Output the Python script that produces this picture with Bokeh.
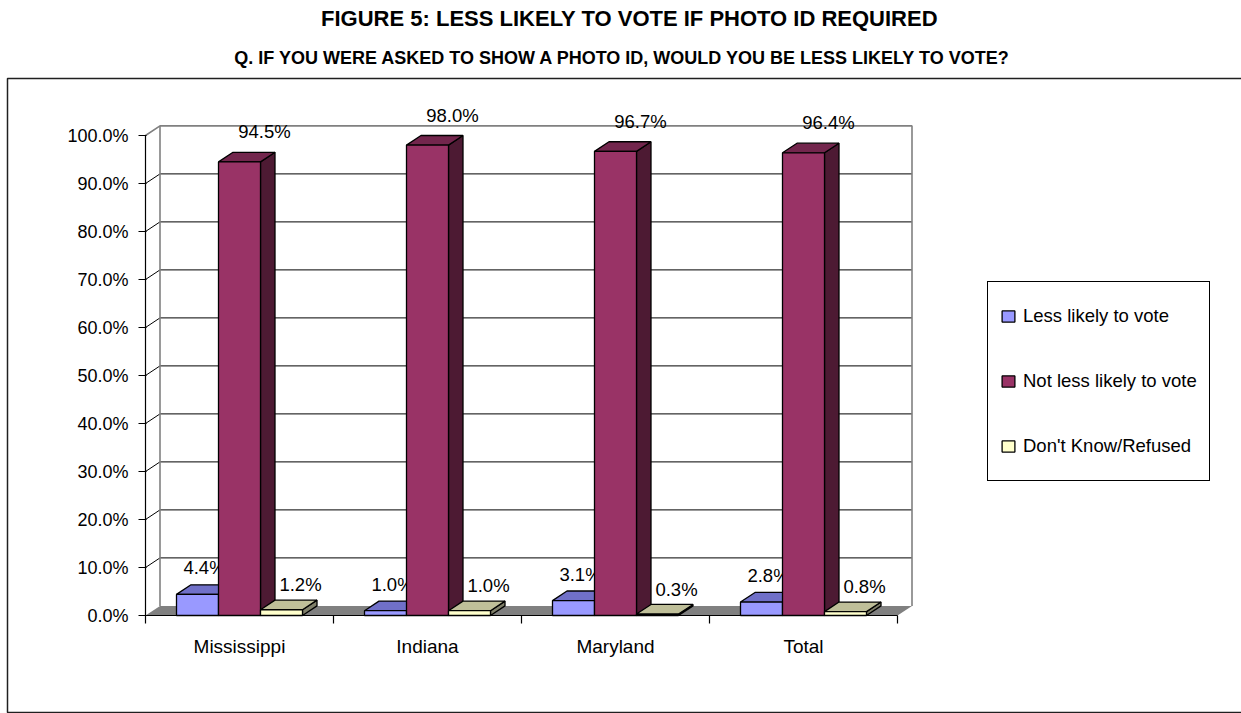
from bokeh.plotting import figure
from bokeh.models import (ColumnDataSource, Range1d, FixedTicker, Label, Legend,
                          LegendItem, LinearAxis)
from bokeh.core.properties import value
from bokeh.embed import file_html
from bokeh.resources import INLINE

# ---- data -------------------------------------------------------------
states = ["Mississippi", "Indiana", "Maryland", "Total"]
series_names = ["Less likely to vote", "Not less likely to vote", "Don't Know/Refused"]
less_likely = [4.4, 1.0, 3.1, 2.8]
not_less_likely = [94.5, 98.0, 96.7, 96.4]
dont_know = [1.2, 1.0, 0.3, 0.8]
y_ticks = [0, 10, 20, 30, 40, 50, 60, 70, 80, 90, 100]

title_text = "FIGURE 5: LESS LIKELY TO VOTE IF PHOTO ID REQUIRED"
subtitle_text = "Q. IF YOU WERE ASKED TO SHOW A PHOTO ID, WOULD YOU BE LESS LIKELY TO VOTE?"

# ---- layout / styling -------------------------------------------------
W, H = 1241, 713
FONT = "Liberation Sans"
ORIGIN_X, ORIGIN_Y = 145.0, 615.0   # canvas pixel of (0, 0%)
PX_X = 188.0                        # pixels per category
PX_Y = 4.8                          # pixels per percentage point
DX = 14.5 / PX_X                    # 3-D depth offset, x
DY = 9.6 / PX_Y                     # 3-D depth offset, y
BAR_W = 42.0 / PX_X
N = len(states)


def cx(px):
    return (px - ORIGIN_X) / PX_X


def cy(py):
    return (ORIGIN_Y - py) / PX_Y


faces = [  # front, top, side
    ("#9999FF", "#7070C8", "#4D4D80"),
    ("#993366", "#73264D", "#4D1A33"),
    ("#FFFFCC", "#BFBF99", "#80806A"),
]
label_dx = [7 / PX_X, 25 / PX_X, 19 / PX_X]
label_dy = [26.5 / PX_Y, 30 / PX_Y, 25 / PX_Y]

p = figure(width=W, height=H, output_backend="svg", toolbar_location=None,
           x_range=Range1d(cx(0), cx(W)), y_range=Range1d(cy(H), cy(0)),
           x_axis_type=None, y_axis_type=None,
           min_border=0, min_border_left=0, min_border_right=0,
           min_border_top=0, min_border_bottom=0)
p.outline_line_color = None
p.xgrid.visible = False
p.ygrid.visible = False
p.background_fill_color = "white"
p.border_fill_color = "white"

# outer chart border
p.line([cx(1260), cx(7), cx(7), cx(1260)], [cy(78), cy(78), cy(712), cy(712)],
       line_color="#202020", line_width=1.5)

# floor
p.patch([0, N, N + DX, DX], [0, 0, DY, DY], fill_color="#808080", line_color=None)

# back wall grid lines and side-wall diagonals
for v in y_ticks[1:-1]:
    p.line([0, DX, N + DX], [v, v + DY, v + DY], line_color="black", line_width=1)
top = y_ticks[-1]
p.line([0, DX, N + DX, N + DX], [top, top + DY, top + DY, DY],
       line_color="#808080", line_width=1.6)
p.line([DX, DX], [DY, top + DY], line_color="#808080", line_width=1.6)

# axis lines
p.segment(x0=[0], y0=[0], x1=[N], y1=[0], line_color="black", line_width=1.2)
p.segment(x0=[0], y0=[0], x1=[0], y1=[top], line_color="black", line_width=1.2)

# 3-D bars
legend_items = []
for k, vals in enumerate([less_likely, not_less_likely, dont_know]):
    front, topc, side = faces[k]
    left = [i + 0.5 + (k - 1.5) * BAR_W for i in range(N)]
    right = [l + BAR_W for l in left]
    top_xs = [[l, r, r + DX, l + DX] for l, r in zip(left, right)]
    top_ys = [[v, v, v + DY, v + DY] for v in vals]
    side_xs = [[r, r, r + DX, r + DX] for r in right]
    side_ys = [[0, v, v + DY, DY] for v in vals]
    p.patches(side_xs, side_ys, fill_color=side, line_color="black", line_width=1.3)
    p.patches(top_xs, top_ys, fill_color=topc, line_color="black", line_width=1.3)
    src = ColumnDataSource(dict(left=left, right=right, top=vals, bottom=[0] * N))
    r = p.quad(left="left", right="right", top="top", bottom="bottom", source=src,
               fill_color=front, line_color="black", line_width=1.3)
    legend_items.append(LegendItem(label=series_names[k], renderers=[r]))
    lsrc = ColumnDataSource(dict(
        x=[(l + r_) / 2 + label_dx[k] for l, r_ in zip(left, right)],
        y=[v + label_dy[k] for v in vals],
        t=[f"{v:.1f}%" for v in vals]))
    p.text(x="x", y="y", text="t", source=lsrc, text_align="center",
           text_baseline="middle", text_font=value(FONT), text_font_size="18.5px",
           text_color="black")

# value axis, drawn at x = 0
yaxis = LinearAxis(fixed_location=0, ticker=FixedTicker(ticks=y_ticks),
                   major_label_overrides={v: f"{v:.1f}%" for v in y_ticks})
yaxis.axis_line_color = None
yaxis.major_tick_out = 7
yaxis.major_tick_in = 1
yaxis.major_tick_line_width = 1.2
yaxis.major_tick_line_color = "black"
yaxis.minor_tick_line_color = None
yaxis.major_label_standoff = 10
yaxis.major_label_text_font = FONT
yaxis.major_label_text_font_size = "18px"
yaxis.major_label_text_color = "black"
p.add_layout(yaxis, "left")

# category boundary ticks, drawn at y = 0
bounds = list(range(N + 1))
tick_axis = LinearAxis(fixed_location=0, ticker=FixedTicker(ticks=bounds),
                       major_label_overrides={b: "" for b in bounds})
tick_axis.axis_line_color = None
tick_axis.major_tick_out = 8
tick_axis.major_tick_in = 0
tick_axis.major_tick_line_width = 1.2
tick_axis.major_tick_line_color = "black"
tick_axis.minor_tick_line_color = None
p.add_layout(tick_axis, "below")

# category labels
centers = [i + 0.5 for i in range(N)]
xaxis = LinearAxis(fixed_location=0, ticker=FixedTicker(ticks=centers),
                   major_label_overrides={c: s for c, s in zip(centers, states)})
xaxis.axis_line_color = None
xaxis.major_tick_line_color = None
xaxis.minor_tick_line_color = None
xaxis.major_tick_out = 0
xaxis.major_tick_in = 0
xaxis.major_label_standoff = 20
xaxis.major_label_text_font = FONT
xaxis.major_label_text_font_size = "19px"
xaxis.major_label_text_color = "black"
p.add_layout(xaxis, "below")

# legend
legend = Legend(items=legend_items, location=(987, H - 481),
                border_line_color="black", border_line_width=1.5,
                border_line_alpha=1.0,
                background_fill_color="white", background_fill_alpha=1,
                label_text_font=FONT, label_text_font_size="18.5px",
                label_text_color="black",
                glyph_width=16, glyph_height=14, label_standoff=7,
                padding=12, spacing=21, label_height=44)
p.add_layout(legend, "center")

# titles
p.add_layout(Label(x=cx(629), y=cy(18), text=title_text,
                   text_align="center", text_baseline="middle", text_font=FONT,
                   text_font_style="bold", text_font_size="22px",
                   text_color="black"))
p.add_layout(Label(x=cx(622.5), y=cy(57), text=subtitle_text,
                   text_align="center", text_baseline="middle", text_font=FONT,
                   text_font_style="bold", text_font_size="18px",
                   text_color="black"))

open("out.html", "w").write(file_html(p, INLINE))
